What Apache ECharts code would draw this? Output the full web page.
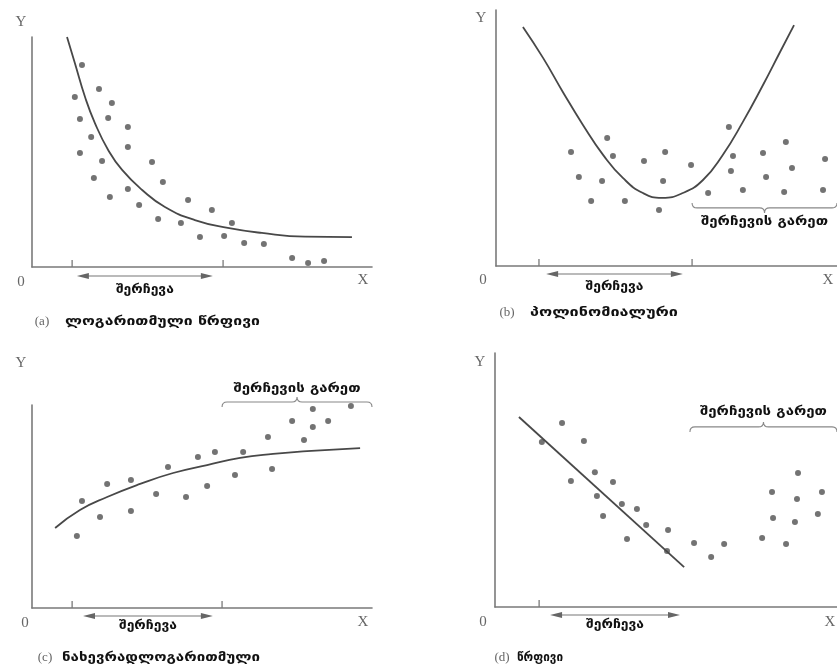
<!DOCTYPE html>
<html>
<head>
<meta charset="utf-8">
<script src="https://cdn.jsdelivr.net/npm/echarts@6/dist/echarts.min.js"></script>
<style>
  html, body { margin: 0; padding: 0; background: #fff; }
  #chart { width: 837px; height: 671px; }
</style>
</head>
<body>
<div id="chart"></div>
<script>
// ---- Data (each panel uses x and y in 0..10 units) ----

// (a) log-linear trend
const dotsA = [
  [1.47, 8.78], [1.26, 7.39], [1.97, 7.74], [2.35, 7.13], [1.41, 6.43], [2.24, 6.48],
  [2.82, 6.09], [1.74, 5.65], [2.82, 5.22], [1.41, 4.96], [2.06, 4.61], [3.53, 4.57],
  [1.82, 3.87], [3.85, 3.70], [2.82, 3.39], [2.29, 3.04], [3.15, 2.70], [4.59, 2.91],
  [5.29, 2.48], [3.71, 2.09], [4.38, 1.91], [5.88, 1.91], [4.94, 1.30], [5.65, 1.35],
  [6.24, 1.04], [6.82, 1.00], [7.65, 0.39], [8.12, 0.17], [8.59, 0.26]
];
const curveA = [
  [1.03, 10.0], [1.26, 8.87], [1.56, 7.39], [1.85, 6.26], [2.24, 5.09], [2.65, 4.22],
  [3.24, 3.35], [3.91, 2.61], [4.79, 2.04], [5.76, 1.70], [6.76, 1.48], [8.03, 1.32],
  [9.41, 1.30]
];

// (b) polynomial trend
const dotsB = [
  [2.20, 4.45], [3.26, 5.00], [3.43, 4.30], [2.43, 3.48], [3.11, 3.32], [2.79, 2.54],
  [3.78, 2.54], [4.34, 4.10], [4.96, 4.45], [4.90, 3.32], [4.78, 2.19], [5.72, 3.95],
  [6.22, 2.85], [6.83, 5.43], [6.95, 4.30], [6.89, 3.71], [7.24, 2.97], [7.83, 4.41],
  [7.92, 3.48], [8.50, 4.84], [8.68, 3.83], [8.45, 2.89], [9.65, 4.18], [9.59, 2.97]
];
const curveB = [
  [0.79, 9.34], [1.38, 8.13], [1.96, 6.80], [2.55, 5.51], [3.14, 4.34], [3.72, 3.44],
  [4.31, 2.85], [4.87, 2.66], [5.48, 2.85], [6.07, 3.36], [6.65, 4.34], [7.24, 5.63],
  [7.83, 7.07], [8.33, 8.36], [8.74, 9.41]
];

// (c) semi-logarithmic trend
const dotsC = [
  [1.32, 3.55], [1.47, 5.27], [2.00, 4.48], [2.21, 6.11], [2.91, 6.31], [2.91, 4.78],
  [3.65, 5.62], [4.00, 6.95], [4.53, 5.47], [4.88, 7.44], [5.15, 6.01], [5.38, 7.68],
  [5.97, 6.55], [6.21, 7.68], [7.06, 6.85], [6.94, 8.42], [7.65, 9.21], [8.00, 8.28],
  [8.26, 8.92], [8.26, 9.80], [8.71, 9.21], [9.38, 9.95]
];
const curveC = [
  [0.68, 3.94], [1.41, 4.83], [2.21, 5.47], [3.18, 6.11], [4.15, 6.65], [5.15, 7.04],
  [6.12, 7.39], [7.09, 7.59], [8.09, 7.73], [9.65, 7.88]
];

// (d) linear trend
const dotsD = [
  [1.96, 7.24], [1.37, 6.50], [2.60, 6.54], [2.22, 4.96], [2.92, 5.31], [3.45, 4.92],
  [2.98, 4.37], [3.16, 3.58], [3.71, 4.06], [4.15, 3.86], [4.42, 3.23], [3.86, 2.68],
  [5.06, 3.03], [5.03, 2.20], [5.82, 2.52], [6.32, 1.97], [6.70, 2.48], [7.81, 2.72],
  [8.51, 2.48], [8.13, 3.50], [8.77, 3.35], [9.44, 3.66], [8.10, 4.53], [8.83, 4.25],
  [9.56, 4.53], [8.86, 5.28]
];
const curveD = [[0.70, 7.48], [5.53, 1.57]];

// Labels
const panelLetters = ['(a)', '(b)', '(c)', '(d)'];
const panelTitles = ['ლოგარითმული წრფივი', 'პოლინომიალური', 'ნახევრადლოგარითმული', 'წრფივი'];
const sampleLabel = 'შერჩევა';
const outLabel = 'შერჩევის გარეთ';
const axisLetters = ['Y', '0', 'X'];

// Sample period: tick marks on the x axis, and the arrow span beneath it
const sampleTicks = [[1.18, 5.62], [1.26, 5.75], [1.18, 5.59], [1.29]];
const sampleSpans = [[1.32, 5.32], [1.47, 5.48], [1.50, 5.32], [1.61, 5.41]];
// Out-of-sample brace: [from x, to x, at y]
const outBraces = [null, [5.75, 10, 2.27], [5.59, 10, 10.15], [5.70, 10, 7.09]];

const allDots = [dotsA, dotsB, dotsC, dotsD];
const allCurves = [curveA, curveB, curveC, curveD];

// ---- Layout and styling ----
const layout = [
  { grid: { left: 32, top: 37, width: 340, height: 230 },
    arrowDy: 9, sampleDy: 23, tipDir: 0, outDy: 0,
    yName: [-11, -15], zero: [-11, 15], xName: [-9, 13],
    capY: 55, capLetterX: 10, capTitleX: 33, capTitleW: 195 },
  { grid: { left: 496, top: 10, width: 341, height: 256 },
    arrowDy: 8, sampleDy: 21, tipDir: 1, outDy: 14,
    yName: [-15, 8], zero: [-13, 14], xName: [-9, 14],
    capY: 47, capLetterX: 11, capTitleX: 34, capTitleW: 148 },
  { grid: { left: 32, top: 405, width: 340, height: 203 },
    arrowDy: 8, sampleDy: 18, tipDir: -1, outDy: -13,
    yName: [-11, -42], zero: [-7, 15], xName: [-9, 14],
    capY: 50, capLetterX: 13, capTitleX: 30, capTitleW: 198 },
  { grid: { left: 495, top: 353, width: 342, height: 254 },
    arrowDy: 8, sampleDy: 18, tipDir: -1, outDy: -15,
    yName: [-15, 9], zero: [-12, 15], xName: [-7, 15],
    capY: 51, capLetterX: 7, capTitleX: 22, capTitleW: 46 }
];
const SAMPLE_W = 58;
const OUT_W = 127;

const AXIS = '#7a7a7a';
const INK = '#484848';
const GEO_FONT = 'bold 13px "DejaVu Sans", sans-serif';
const SERIF = '"Liberation Serif", "DejaVu Serif", serif';

const measureCtx = document.createElement('canvas').getContext('2d');
function textWidth(text, font) {
  measureCtx.font = font;
  return measureCtx.measureText(text).width;
}

function bracePath(x1, x2, y, dir, h) {
  const xm = (x1 + x2) / 2;
  return 'M' + x1 + ' ' + (y - dir * h) +
    ' Q' + x1 + ' ' + y + ' ' + (x1 + h) + ' ' + y +
    ' L' + (xm - h) + ' ' + y +
    ' Q' + xm + ' ' + y + ' ' + xm + ' ' + (y + dir * h) +
    ' Q' + xm + ' ' + y + ' ' + (xm + h) + ' ' + y +
    ' L' + (x2 - h) + ' ' + y +
    ' Q' + x2 + ' ' + y + ' ' + x2 + ' ' + (y - dir * h);
}

// Georgian text stretched horizontally to the given width
function geoText(x, y, text, width, align) {
  return {
    type: 'text',
    x: x, y: y,
    scaleX: width / textWidth(text, GEO_FONT),
    style: {
      x: 0, y: 0, text: text, fill: '#111', font: GEO_FONT,
      align: align || 'center', verticalAlign: 'middle'
    }
  };
}

function letterText(x, y, text, size, align) {
  return {
    type: 'text',
    style: {
      x: x, y: y, text: text, fill: '#666',
      font: (size || 15) + 'px ' + SERIF, align: align || 'center', verticalAlign: 'middle'
    }
  };
}

function annotations(i) {
  return function (params, api) {
    const L = layout[i];
    const o = api.coord([0, 0]);
    const xe = api.coord([10, 0]);
    const yt = api.coord([0, 10]);
    const kids = [];

    // sample-period tick marks
    sampleTicks[i].forEach(function (v) {
      const p = api.coord([v, 0]);
      kids.push({ type: 'line', shape: { x1: p[0], y1: p[1], x2: p[0], y2: p[1] - 7 },
        style: { stroke: AXIS, lineWidth: 1.3 } });
    });

    // double-headed arrow for the sample period
    const a1 = api.coord([sampleSpans[i][0], 0])[0];
    const a2 = api.coord([sampleSpans[i][1], 0])[0];
    const ay = o[1] + L.arrowDy;
    kids.push({ type: 'line', shape: { x1: a1 + 4, y1: ay, x2: a2 - 4, y2: ay },
      style: { stroke: '#777', lineWidth: 1.2 } });
    kids.push({ type: 'polygon', shape: { points: [[a1, ay], [a1 + 12, ay - 3], [a1 + 12, ay + 3]] },
      style: { fill: '#666' } });
    kids.push({ type: 'polygon', shape: { points: [[a2, ay], [a2 - 12, ay - 3], [a2 - 12, ay + 3]] },
      style: { fill: '#666' } });
    kids.push(geoText((a1 + a2) / 2, o[1] + L.sampleDy, sampleLabel, SAMPLE_W));

    // out-of-sample brace
    const b = outBraces[i];
    if (b) {
      const b1 = api.coord([b[0], b[2]]);
      const b2 = api.coord([b[1], b[2]]);
      kids.push({ type: 'path', shape: { pathData: bracePath(b1[0], b2[0], b1[1], L.tipDir, 5) },
        style: { stroke: '#888', lineWidth: 1.1, fill: null } });
      kids.push(geoText((b1[0] + b2[0]) / 2, b1[1] + L.outDy, outLabel, OUT_W));
    }

    // axis letters
    kids.push(letterText(yt[0] + L.yName[0], yt[1] + L.yName[1], axisLetters[0]));
    kids.push(letterText(o[0] + L.zero[0], o[1] + L.zero[1], axisLetters[1]));
    kids.push(letterText(xe[0] + L.xName[0], xe[1] + L.xName[1], axisLetters[2]));

    // panel caption
    kids.push(letterText(o[0] + L.capLetterX, o[1] + L.capY, panelLetters[i], 13));
    kids.push(geoText(o[0] + L.capTitleX, o[1] + L.capY, panelTitles[i], L.capTitleW, 'left'));
    return { type: 'group', children: kids };
  };
}

const grids = [], xAxes = [], yAxes = [], series = [];
layout.forEach(function (L, i) {
  grids.push(L.grid);
  const axisBase = {
    gridIndex: i, type: 'value', min: 0, max: 10,
    axisLine: { show: true, onZero: false, lineStyle: { color: AXIS, width: 1.6 } },
    axisTick: { show: false }, axisLabel: { show: false }, splitLine: { show: false }
  };
  xAxes.push(Object.assign({}, axisBase));
  yAxes.push(Object.assign({}, axisBase));
  series.push({
    type: 'line', xAxisIndex: i, yAxisIndex: i, data: allCurves[i],
    smooth: 0.5, showSymbol: false, clip: false,
    lineStyle: { color: INK, width: 1.8 }
  });
  series.push({
    type: 'scatter', xAxisIndex: i, yAxisIndex: i, data: allDots[i],
    symbolSize: 6, itemStyle: { color: '#505050' }
  });
  series.push({
    type: 'custom', xAxisIndex: i, yAxisIndex: i, data: [[0, 0]],
    renderItem: annotations(i), silent: true
  });
});

const chart = echarts.init(document.getElementById('chart'));
chart.setOption({
  backgroundColor: '#fff',
  animation: false,
  grid: grids,
  xAxis: xAxes,
  yAxis: yAxes,
  series: series
});
</script>
</body>
</html>
